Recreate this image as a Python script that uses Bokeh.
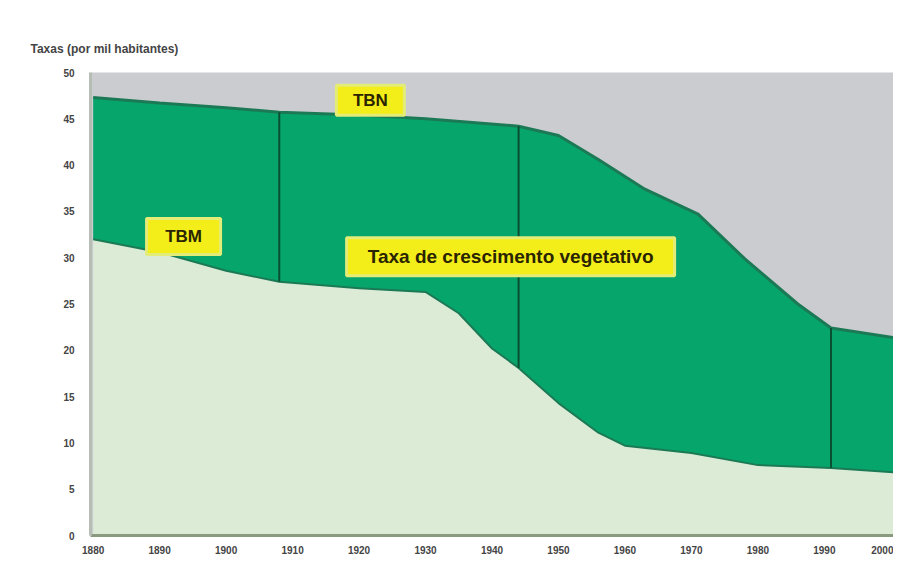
from bokeh.plotting import figure
from bokeh.models import Range1d, FixedTicker
from bokeh.core.properties import value
from bokeh.embed import file_html
from bokeh.resources import INLINE

# Data
birth_years = [1880, 1890, 1900, 1908, 1920, 1930, 1944, 1950, 1956, 1963, 1971, 1978, 1986, 1991, 2001]
birth_rate = [47.3, 46.7, 46.2, 45.7, 45.4, 45.0, 44.2, 43.2, 40.6, 37.4, 34.7, 29.9, 25.0, 22.4, 21.3]
death_years = [1880, 1890, 1900, 1908, 1920, 1930, 1935, 1940, 1944, 1950, 1956, 1960, 1970, 1980, 1991, 2001]
death_rate = [32.0, 30.6, 28.6, 27.4, 26.7, 26.3, 24.0, 20.2, 18.1, 14.3, 11.1, 9.7, 8.9, 7.6, 7.3, 6.8]
phase_years = [1908, 1944, 1991]
phase_top = [45.7, 44.2, 22.4]
phase_bottom = [27.4, 18.1, 7.3]
label_texts = ["TBN", "TBM", "Taxa de crescimento vegetativo"]
label_x = [1921.7, 1893.6, 1942.8]
label_y = [47.0, 32.3, 30.1]
x_ticks = [1880, 1890, 1900, 1910, 1920, 1930, 1940, 1950, 1960, 1970, 1980, 1990, 2000]
y_ticks = [0, 5, 10, 15, 20, 25, 30, 35, 40, 45, 50]

p = figure(width=893, height=556, output_backend="svg", toolbar_location=None,
           x_range=Range1d(1879.6, 2000.4), y_range=Range1d(0, 50),
           min_border_left=90, min_border_right=0, min_border_top=72, min_border_bottom=14)
p.background_fill_color = "#cbccd0"
p.border_fill_color = "white"
p.outline_line_color = None
p.xgrid.visible = False
p.ygrid.visible = False

p.varea(x=death_years, y1=[0] * len(death_years), y2=death_rate, fill_color="#dcebd6")
# green band between the two curves
p.patch(x=birth_years + death_years[::-1], y=birth_rate + death_rate[::-1],
        fill_color="#06a56c", line_color=None)
p.line(x=birth_years, y=birth_rate, line_color="#1b7a55", line_width=3)
p.line(x=death_years, y=death_rate, line_color="#1b7a55", line_width=2)
p.segment(x0=phase_years, y0=phase_bottom, x1=phase_years, y1=phase_top,
          line_color="#0b4f33", line_width=2)

# yellow label boxes
p.rect(x=label_x, y=label_y, width=[68, 74, 328], height=[30, 36, 38],
       width_units="screen", height_units="screen",
       fill_color="#f3ee1a", line_color="#e4ec78", line_width=3)
p.text(x=label_x, y=label_y, text=label_texts, text_align="center", text_baseline="middle",
       text_font=value("Liberation Sans"), text_font_size=["17px", "17px", "19px"],
       text_font_style="bold", text_color="#2a2400")

p.xaxis.ticker = FixedTicker(ticks=x_ticks)
p.yaxis.ticker = FixedTicker(ticks=y_ticks)
for ax in (p.xaxis[0], p.yaxis[0]):
    ax.major_label_text_font = "Liberation Sans"
    ax.major_label_text_font_size = "10px"
    ax.major_label_text_font_style = "bold"
    ax.major_label_text_color = "#444444"
    ax.major_tick_line_color = None
    ax.minor_tick_line_color = None
p.xaxis.axis_line_color = "#8a9a80"
p.xaxis.axis_line_width = 3
p.xaxis.major_label_standoff = 4
p.yaxis.axis_line_color = "#b5bdb5"
p.yaxis.axis_line_width = 3
p.yaxis.major_label_standoff = 10

p.title.text = "Taxas (por mil habitantes)"
p.title.align = "left"
p.title.offset = -60
p.title.text_font = "Liberation Sans"
p.title.text_font_size = "12px"
p.title.text_font_style = "bold"
p.title.text_color = "#444444"
p.title.standoff = 34

open("out.html", "w").write(file_html(p, INLINE))
